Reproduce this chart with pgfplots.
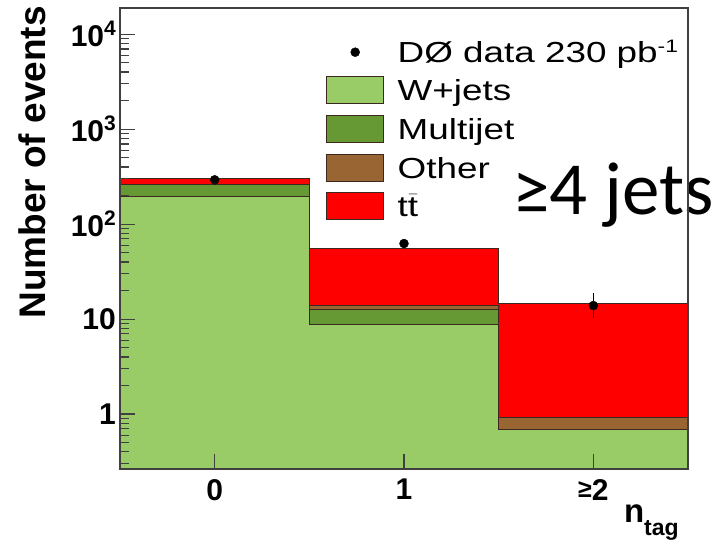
\documentclass[border=0pt]{standalone}
\usepackage{pgfplots}
\pgfplotsset{compat=1.18}
\usepackage{pgfplotstable}
\usepackage{fontspec}
\setmainfont{Liberation Sans}
\newfontfamily\carlito{Carlito}
\newfontfamily\legfont{Liberation Sans}[FakeStretch=1.27]
\definecolor{wj}{RGB}{153,204,102}
\definecolor{mj}{RGB}{102,153,51}
\definecolor{ot}{RGB}{153,102,51}
\definecolor{ttc}{RGB}{255,0,0}
\definecolor{edge}{RGB}{60,40,30}

% cumulative stack tops per bin (left edges), last row repeats last bin
\pgfplotstableread{
x     wj     mj     ot     tt
-0.5  195    259    264    300
0.5   8.7    12.7   14.0   55.4
1.5   0.695  0.695  0.93   14.7
2.5   0.695  0.695  0.93   14.7
}\stack
\pgfplotstableread{
x  y     ep   em
0  293   17   17
1  62.5  6    6
2  13.9  5.0  3.6
}\data

\begin{document}
\begin{tikzpicture}
\useasboundingbox (0pt,0pt) rectangle (717pt,545pt);
\begin{axis}[
  at={(120pt,76pt)}, anchor=south west,
  scale only axis, width=568pt, height=461pt,
  ymode=log, xmin=-0.5, xmax=2.5, ymin=0.264, ymax=18900,
  log origin y=infty,
  clip mode=individual,
  axis on top,
  axis line style={black!75, line width=1.3pt},
  every tick/.style={black!75, line width=1.2pt},
  major tick length=15pt, minor tick length=9pt,
  tick align=inside,
  xtick pos=bottom, ytick pos=left,
  xtick={0,1,2}, xticklabels={\textbf{0},\textbf{1},\textbf{\raisebox{3pt}{\fontsize{25}{25}\selectfont ≥}2}},
  ytick={1,10,100,1000,10000},
  yticklabels={\textbf{1},\textbf{10},\textbf{10}\raisebox{11pt}{\fontsize{21}{21}\selectfont\textbf{2}},\textbf{10}\raisebox{11pt}{\fontsize{21}{21}\selectfont\textbf{3}},\textbf{10}\raisebox{11pt}{\fontsize{21}{21}\selectfont\textbf{4}}},
  minor ytick={0.3,0.4,0.5,0.6,0.7,0.8,0.9,2,3,4,5,6,7,8,9,20,30,40,50,60,70,80,90,200,300,400,500,600,700,800,900,2000,3000,4000,5000,6000,7000,8000,9000},
  xticklabel style={font=\fontsize{30}{30}\selectfont, inner sep=0pt, yshift=-10pt},
  yticklabel style={font=\fontsize{30}{30}\selectfont, inner sep=0pt, xshift=-4pt},
  ylabel={\textbf{Number of events}},
  ylabel style={at={(axis description cs:-0.1547,0.665)}, anchor=center, font=\fontsize{37}{37}\selectfont},
  xlabel={\textbf{n}\raisebox{-13pt}{\fontsize{23}{23}\selectfont\textbf{tag}}},
  xlabel style={at={(axis description cs:0.984,-0.115)}, anchor=base east, font=\fontsize{33}{33}\selectfont, inner sep=0pt},
  legend style={at={(axis description cs:0,1)}, anchor=north west, xshift=206pt, yshift=-30.5pt,
    draw=none, fill=none, inner sep=0pt, row sep=10.7pt, column sep=0pt,
    font=\legfont\fontsize{29}{29}\selectfont,
    nodes={inner sep=0pt, anchor=base west}},
  legend cell align=left,
]
% legend entries
\addlegendimage{legend image code/.code={\path[draw=none,fill=none] (0pt,-3pt) rectangle (71pt,24pt); \fill[black] (28.5pt,10.5pt) circle (4.5pt);}}
\addlegendentry{DØ data 230 pb\raisebox{10pt}{\fontsize{18}{18}\selectfont -1}}
\addlegendimage{legend image code/.code={\draw[fill=wj,draw=edge,line width=1pt] (0pt,-3pt) rectangle (57pt,24pt); \path[draw=none] (71pt,0pt);}}
\addlegendentry{W+jets}
\addlegendimage{legend image code/.code={\draw[fill=mj,draw=edge,line width=1pt] (0pt,-3pt) rectangle (57pt,24pt); \path[draw=none] (71pt,0pt);}}
\addlegendentry{Multijet}
\addlegendimage{legend image code/.code={\draw[fill=ot,draw=edge,line width=1pt] (0pt,-3pt) rectangle (57pt,24pt); \path[draw=none] (71pt,0pt);}}
\addlegendentry{Other}
\addlegendimage{legend image code/.code={\draw[fill=ttc,draw=edge,line width=1pt] (0pt,-3pt) rectangle (57pt,24pt); \path[draw=none] (71pt,0pt);}}
\addlegendentry{t$\bar{\mbox{t}}$}

% stacked histogram (drawn from total down)
\addplot[const plot, fill=ttc, draw=edge, line width=1.1pt, forget plot] table[x=x,y=tt]{\stack} \closedcycle;
\addplot[const plot, fill=ot, draw=edge, line width=1.1pt, forget plot] table[x=x,y=ot]{\stack} \closedcycle;
\addplot[const plot, fill=mj, draw=edge, line width=1.1pt, forget plot] table[x=x,y=mj]{\stack} \closedcycle;
\addplot[const plot, fill=wj, draw=edge, line width=1.1pt, forget plot] table[x=x,y=wj]{\stack} \closedcycle;

% data
\addplot[only marks, mark=*, mark size=4.5pt, black, forget plot,
  error bars/.cd, y dir=both, y explicit, error mark=none,
  error bar style={line width=1.5pt, black}]
  table[x=x, y=y, y error plus=ep, y error minus=em]{\data};

\node[anchor=base west, font=\carlito\fontsize{75}{75}\selectfont, inner sep=0pt]
  at (axis description cs:0.6907,0.551) {≥4 jets};
\end{axis}
\end{tikzpicture}
\end{document}
